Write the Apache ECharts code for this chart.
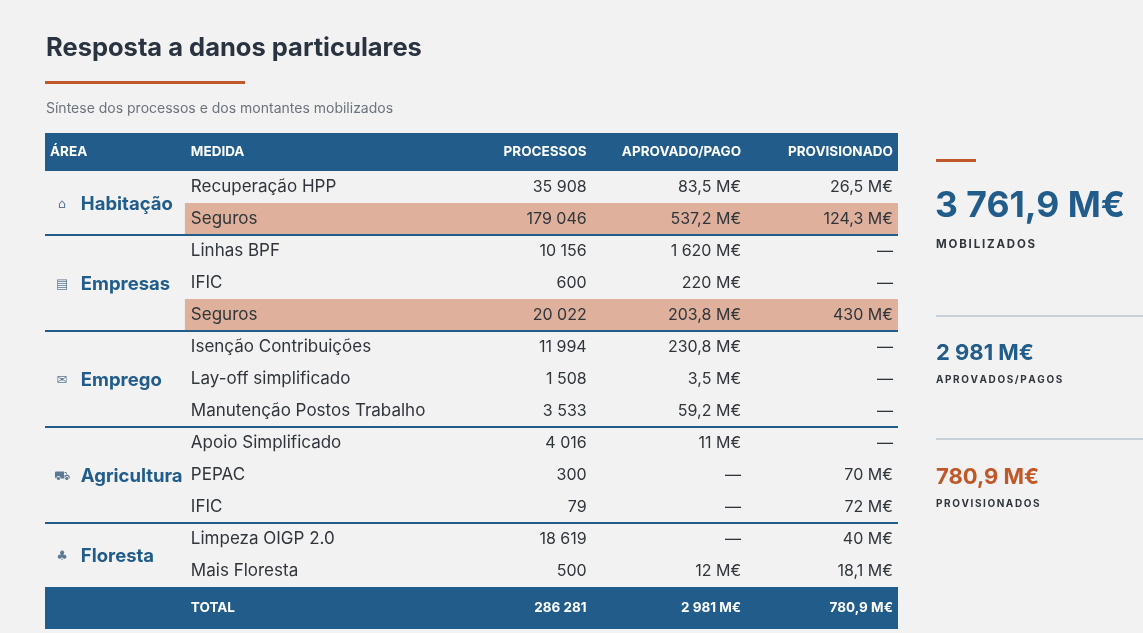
<!DOCTYPE html>
<html>
<head>
<meta charset="utf-8">
<script src="https://cdn.jsdelivr.net/npm/echarts@6/dist/echarts.min.js"></script>
<style>
  html, body { margin: 0; padding: 0; background: #f2f2f2; }
  #main { width: 1143px; height: 633px; }
</style>
</head>
<body>
<div id="main"></div>
<script>
// dados da tabela
const areas = ['Habitação', 'Empresas', 'Emprego', 'Agricultura', 'Floresta'];
const areaIcons = ['⌂', '▤', '✉', '⛟', '♣'];
const areaOf = [0, 0, 1, 1, 1, 2, 2, 2, 3, 3, 3, 4, 4];
const medidas = [
  'Recuperação HPP', 'Seguros',
  'Linhas BPF', 'IFIC', 'Seguros',
  'Isenção Contribuições', 'Lay-off simplificado', 'Manutenção Postos Trabalho',
  'Apoio Simplificado', 'PEPAC', 'IFIC',
  'Limpeza OIGP 2.0', 'Mais Floresta'
];
const processos = [35908, 179046, 10156, 600, 20022, 11994, 1508, 3533, 4016, 300, 79, 18619, 500];
const aprovado = [83.5, 537.2, 1620, 220, 203.8, 230.8, 3.5, 59.2, 11, null, null, null, 12];
const provisionado = [26.5, 124.3, null, null, 430, null, null, null, null, 70, 72, 40, 18.1];
const destaque = [false, true, false, false, true, false, false, false, false, false, false, false, false];
const headers = ['ÁREA', 'MEDIDA', 'PROCESSOS', 'APROVADO/PAGO', 'PROVISIONADO'];

const sum = arr => arr.reduce((a, b) => a + (b || 0), 0);
const totProc = sum(processos);
const totAprov = sum(aprovado);
const totProv = sum(provisionado);
const totMob = totAprov + totProv;

function fmtInt(n) {
  return String(n).replace(/\B(?=(\d{3})+(?!\d))/g, ' ');
}
function fmtM(v) {
  if (v == null) return '—';
  v = Math.round(v * 10) / 10;
  let s = Number.isInteger(v) ? String(v) : v.toFixed(1);
  let parts = s.split('.');
  return fmtInt(parts[0]) + (parts[1] ? ',' + parts[1] : '') + ' M€';
}
function spaced(s) { return s.split('').join('\u2009'); }

const BLUE = '#215c8a';
const ORANGE = '#c0582a';
const TXT = '#2f353b';
const FONT = 'Inter, "Noto Sans", sans-serif';

// colunas (em % da largura da tabela)
const COL = { icon: 2.0, area: 4.2, hl: 16.4, medida: 17.1, proc: 63.5, aprov: 81.6, prov: 99.4 };

function txt(x, y, text, font, fill, align) {
  return {
    type: 'text',
    style: { x: x, y: y, text: text, font: font, fill: fill, textAlign: align || 'left', textVerticalAlign: 'middle' }
  };
}

function renderItem(params, api) {
  const i = params.dataIndex;
  const cs = params.coordSys;
  const h = api.size([0, 1])[1];
  const y = api.coord([0, i])[1];
  const top = y - h / 2;
  const X = p => api.coord([p, i])[0];
  const right = cs.x + cs.width;
  const kids = [];

  if (destaque[i]) {
    kids.push({ type: 'rect', shape: { x: X(COL.hl), y: top, width: right - X(COL.hl), height: h }, style: { fill: '#dfb09b' } });
  }
  const body = '16px ' + FONT;
  kids.push(txt(X(COL.medida), y, medidas[i], '17px ' + FONT, TXT));
  kids.push(txt(X(COL.proc), y, fmtInt(processos[i]), body, TXT, 'right'));
  kids.push(txt(X(COL.aprov), y, fmtM(aprovado[i]), body, TXT, 'right'));
  kids.push(txt(X(COL.prov), y, fmtM(provisionado[i]), body, TXT, 'right'));

  const a = areaOf[i];
  if (i === 0 || areaOf[i - 1] !== a) {
    const rows = areaOf.map((v, k) => v === a ? k : -1).filter(k => k >= 0);
    const cy = (api.coord([0, rows[0]])[1] + api.coord([0, rows[rows.length - 1]])[1]) / 2;
    kids.push(txt(X(COL.icon), cy + 2, areaIcons[a], '13px "DejaVu Sans", sans-serif', '#5b7894', 'center'));
    kids.push(txt(X(COL.area), cy + 1, areas[a], 'bold 18.5px ' + FONT, BLUE));
  }
  if (i < areaOf.length - 1 && areaOf[i + 1] !== a) {
    kids.push({ type: 'line', shape: { x1: cs.x, y1: top + h, x2: right, y2: top + h }, style: { stroke: BLUE, lineWidth: 2 } });
  }

  const hdr = 'bold 13.5px ' + FONT;
  if (i === 0) {
    const hh = 38, hy = top - hh / 2;
    kids.push({ type: 'rect', shape: { x: cs.x, y: top - hh, width: cs.width, height: hh }, style: { fill: BLUE } });
    kids.push(txt(cs.x + 5, hy, headers[0], hdr, '#fff'));
    kids.push(txt(X(COL.medida), hy, headers[1], hdr, '#fff'));
    kids.push(txt(X(COL.proc), hy, headers[2], hdr, '#fff', 'right'));
    kids.push(txt(X(COL.aprov), hy, headers[3], hdr, '#fff', 'right'));
    kids.push(txt(X(COL.prov), hy, headers[4], hdr, '#fff', 'right'));
  }
  if (i === medidas.length - 1) {
    const th = 42, b = top + h, ty = b + th / 2;
    kids.push({ type: 'rect', shape: { x: cs.x, y: b, width: cs.width, height: th }, style: { fill: BLUE } });
    kids.push(txt(X(COL.medida), ty, 'TOTAL', hdr, '#fff'));
    kids.push(txt(X(COL.proc), ty, fmtInt(totProc), hdr, '#fff', 'right'));
    kids.push(txt(X(COL.aprov), ty, fmtM(totAprov), hdr, '#fff', 'right'));
    kids.push(txt(X(COL.prov), ty, fmtM(totProv), hdr, '#fff', 'right'));
  }
  return { type: 'group', children: kids };
}

const chart = echarts.init(document.getElementById('main'));
chart.setOption({
  backgroundColor: '#f2f2f2',
  animation: false,
  title: [
    { text: 'Resposta a danos particulares', left: 41, top: 30,
      textStyle: { fontFamily: 'Inter', fontWeight: 'bold', fontSize: 25.5, color: '#2a3340' } },
    { text: 'Síntese dos processos e dos montantes mobilizados', left: 41, top: 97,
      textStyle: { fontFamily: 'Inter', fontWeight: 'normal', fontSize: 14, color: '#6b737d' } }
  ],
  grid: { left: 45, right: 245, top: 171, bottom: 46 },
  xAxis: { type: 'value', min: 0, max: 100, show: false },
  yAxis: { type: 'category', data: medidas, inverse: true, show: false },
  series: [{
    type: 'custom',
    renderItem: renderItem,
    encode: { y: 0 },
    data: medidas.map((m, k) => [k]),
    silent: true
  }],
  graphic: [
    { type: 'rect', shape: { x: 45, y: 81, width: 200, height: 3 }, style: { fill: ORANGE } },
    { type: 'rect', shape: { x: 936, y: 159, width: 40, height: 3 }, style: { fill: ORANGE } },
    { type: 'text', style: { x: 935, y: 206, text: fmtM(totMob), font: 'bold 35.5px ' + FONT, fill: BLUE, textVerticalAlign: 'middle' } },
    { type: 'text', style: { x: 936, y: 245, text: spaced('MOBILIZADOS'), font: 'bold 11.5px ' + FONT, fill: '#2f353b', textVerticalAlign: 'middle' } },
    { type: 'rect', shape: { x: 936, y: 315, width: 207, height: 2 }, style: { fill: '#c7cfd7' } },
    { type: 'text', style: { x: 936, y: 353, text: fmtM(totAprov), font: 'bold 22px ' + FONT, fill: BLUE, textVerticalAlign: 'middle' } },
    { type: 'text', style: { x: 936, y: 380, text: spaced('APROVADOS/PAGOS'), font: 'bold 10px ' + FONT, fill: '#2f353b', textVerticalAlign: 'middle' } },
    { type: 'rect', shape: { x: 936, y: 438, width: 207, height: 2 }, style: { fill: '#c7cfd7' } },
    { type: 'text', style: { x: 936, y: 477, text: fmtM(totProv), font: 'bold 22px ' + FONT, fill: ORANGE, textVerticalAlign: 'middle' } },
    { type: 'text', style: { x: 936, y: 504, text: spaced('PROVISIONADOS'), font: 'bold 10px ' + FONT, fill: '#2f353b', textVerticalAlign: 'middle' } }
  ]
});
</script>
</body>
</html>
